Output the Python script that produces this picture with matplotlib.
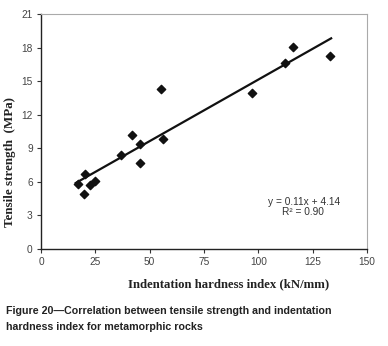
import matplotlib
matplotlib.use('Agg')
from matplotlib import pyplot as plt
import numpy as np

# data
hardness = [16.8, 20.0, 20.3, 22.5, 24.9, 37.0, 41.7, 45.4, 45.4, 55.1, 56.2, 97.3, 112.4, 115.8, 133.1]
tensile = [5.78, 4.89, 6.73, 5.69, 6.08, 8.37, 10.19, 9.38, 7.66, 14.27, 9.86, 13.91, 16.59, 18.08, 17.22]
slope = 0.11
intercept = 4.14
r2 = 0.90
x_ticks = [0, 25, 50, 75, 100, 125, 150]
y_ticks = [0, 3, 6, 9, 12, 15, 18, 21]


def main():
  fig = plt.figure(figsize=(3.88, 3.46), dpi=100)
  ax = fig.add_axes([41 / 388, 1 - 249 / 346, 326 / 388, 235 / 346])

  ax.scatter(hardness, tensile, marker='D', s=18, color='#111111', zorder=3)
  xl = np.array([min(hardness) - 0.8, max(hardness) + 0.4])
  ax.plot(xl, slope * xl + intercept, color='#111111', lw=1.6, zorder=2)

  ax.set_xlim(0, 150)
  ax.set_ylim(0, 21)
  ax.set_xticks(x_ticks)
  ax.set_yticks(y_ticks)
  ax.tick_params(labelsize=7.3, length=3, width=0.8, color='#333333',
                 labelcolor='#444444', direction='out', pad=3)
  for lab in ax.get_xticklabels() + ax.get_yticklabels():
    lab.set_family('Liberation Sans')
  for side in ['left', 'bottom']:
    ax.spines[side].set_color('#222222')
    ax.spines[side].set_linewidth(1.0)
  for side in ['right', 'top']:
    ax.spines[side].set_color('#aaaaaa')
    ax.spines[side].set_linewidth(0.8)

  ax.text(121, 4.2, 'y = %.2fx + %.2f' % (slope, intercept), fontsize=7.3, family='Liberation Sans',
          color='#333333', ha='center', va='center')
  ax.text(120.5, 3.3, 'R\u00b2 = %.2f' % r2, fontsize=7.3, family='Liberation Sans', color='#333333',
          ha='center', va='center')

  fig.text(10 / 388, 1 - 162 / 346, 'Tensile strength  (MPa)', rotation=90, ha='center', va='center',
           fontsize=9.4, family='Liberation Serif', weight='bold', color='#222222')
  fig.text(229 / 388, 1 - 284 / 346, 'Indentation hardness index (kN/mm)', ha='center', va='center',
           fontsize=9.2, family='Liberation Serif', weight='bold', color='#222222')

  fig.text(6 / 388, 1 - 311 / 346, 'Figure 20\u2014Correlation between tensile strength and indentation',
           ha='left', va='center', fontsize=7.7, family='Liberation Sans', weight='bold', color='#222222')
  fig.text(6 / 388, 1 - 327 / 346, 'hardness index for metamorphic rocks',
           ha='left', va='center', fontsize=7.7, family='Liberation Sans', weight='bold', color='#222222')

  fig.savefig('out.png', dpi=100)


if __name__ == '__main__':
  main()
